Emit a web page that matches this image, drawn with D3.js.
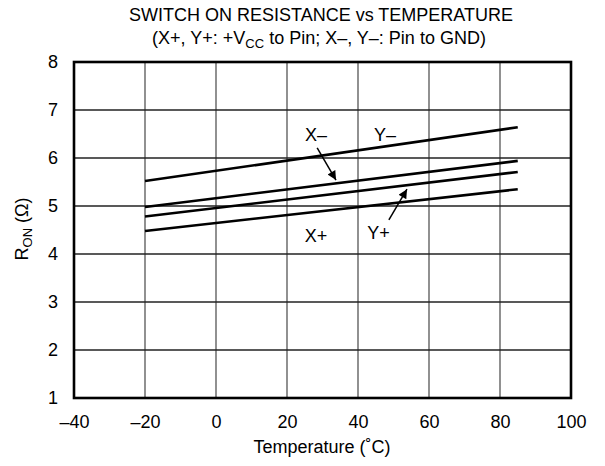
<!DOCTYPE html>
<html><head><meta charset="utf-8">
<script src="https://cdn.jsdelivr.net/npm/d3@7"></script>
<style>body{margin:0;background:#fff}svg{display:block}text{font-family:"Liberation Sans",Arial,sans-serif;fill:#000}</style>
</head><body><svg id="c" width="605" height="466"></svg>
<script>
const temps = [-20, 85];
const seriesTop = [5.52, 6.64];
const seriesSecond = [4.98, 5.94];
const seriesThird = [4.78, 5.71];
const seriesBottom = [4.48, 5.35];
const xTicks = [-40, -20, 0, 20, 40, 60, 80, 100];
const yTicks = [1, 2, 3, 4, 5, 6, 7, 8];

const FONT = '"Liberation Sans",Arial,sans-serif';
const svg = d3.select("#c");
const m = {l:74, r:571, t:62, b:398};
const x = d3.scaleLinear().domain([-40,100]).range([m.l,m.r]);
const y = d3.scaleLinear().domain([1,8]).range([m.b,m.t]);

// grid
svg.append("g").selectAll("line").data(xTicks.slice(1,-1)).join("line")
  .attr("x1",d=>x(d)).attr("x2",d=>x(d)).attr("y1",m.t).attr("y2",m.b)
  .attr("stroke","#555").attr("stroke-width",1.3);
svg.append("g").selectAll("line").data(yTicks.slice(1,-1)).join("line")
  .attr("y1",d=>y(d)).attr("y2",d=>y(d)).attr("x1",m.l).attr("x2",m.r)
  .attr("stroke","#222").attr("stroke-width",1.3);

// axes labels via d3 axes
const xAxis = svg.append("g").attr("transform",`translate(0,${m.b})`)
  .call(d3.axisBottom(x).tickValues(xTicks).tickSize(0).tickPadding(17).tickFormat(d=>d<0?"\u2013"+Math.abs(d):String(d)));
const yAxis = svg.append("g").attr("transform",`translate(${m.l},0)`)
  .call(d3.axisLeft(y).tickValues(yTicks).tickSize(0).tickPadding(16).tickFormat(d3.format("d")));
[xAxis,yAxis].forEach(a=>{a.select(".domain").remove();a.selectAll("text").attr("font-size",18).attr("font-family",FONT);});

// border
svg.append("rect").attr("x",m.l).attr("y",m.t).attr("width",m.r-m.l).attr("height",m.b-m.t)
  .attr("fill","none").attr("stroke","#000").attr("stroke-width",2.6);

// data lines
const line = d3.line().x((d,i)=>x(temps[i])).y(d=>y(d));
[seriesTop,seriesSecond,seriesThird,seriesBottom].forEach(s=>{
  svg.append("path").datum(s).attr("d",line).attr("fill","none").attr("stroke","#000").attr("stroke-width",2.6);
});

// arrow marker
svg.append("defs").append("marker").attr("id","ah").attr("viewBox","0 0 10 10")
  .attr("refX",10).attr("refY",5).attr("markerWidth",13).attr("markerHeight",9)
  .attr("markerUnits","userSpaceOnUse").attr("orient","auto")
  .append("path").attr("d","M0,0 L10,5 L0,10 Z").attr("fill","#000");
function arrow(t1,v1,t2,v2){
  svg.append("line").attr("x1",x(t1)).attr("y1",y(v1)).attr("x2",x(t2)).attr("y2",y(v2))
    .attr("stroke","#000").attr("stroke-width",1.5).attr("marker-end","url(#ah)");
}
arrow(28.5,6.21,33.8,5.54);
arrow(48.7,4.71,53.8,5.35);

// curve labels
const lab = [["X\u2013",28.2,6.35],["Y\u2013",47.6,6.35],["X+",28.2,4.26],["Y+",45.8,4.31]];
svg.append("g").selectAll("text").data(lab).join("text")
  .attr("x",d=>x(d[1])).attr("y",d=>y(d[2])).attr("text-anchor","middle").attr("font-size",18).text(d=>d[0]);

// titles
svg.append("text").attr("x",321).attr("y",21).attr("text-anchor","middle").attr("font-size",18)
  .text("SWITCH ON RESISTANCE vs TEMPERATURE");
const t2 = svg.append("text").attr("x",319).attr("y",44).attr("text-anchor","middle").attr("font-size",18);
t2.append("tspan").text("(X+, Y+: +V");
t2.append("tspan").attr("font-size",13).attr("dy",4).text("CC");
t2.append("tspan").attr("dy",-4).text(" to Pin; X\u2013, Y\u2013: Pin to GND)");

svg.append("text").attr("x",322).attr("y",453).attr("text-anchor","middle").attr("font-size",18)
  .text("Temperature (\u02DAC)");
const yl = svg.append("text").attr("transform","translate(28,229) rotate(-90)").attr("text-anchor","middle").attr("font-size",18);
yl.append("tspan").text("R");
yl.append("tspan").attr("font-size",13).attr("dy",4).text("ON");
yl.append("tspan").attr("dy",-4).text(" (\u03A9)");
</script></body></html>
